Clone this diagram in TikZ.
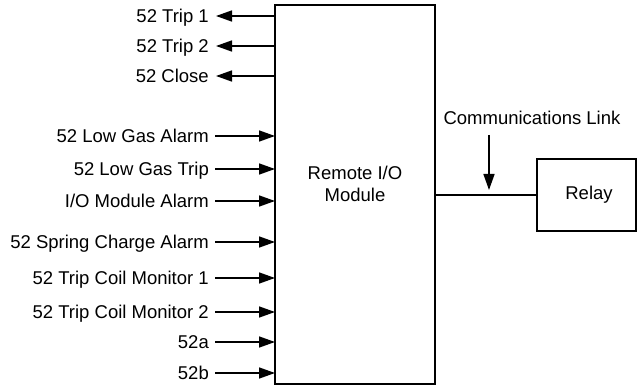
\documentclass[tikz,border=0pt]{standalone}
\usepackage{fontspec}
\setmainfont{Liberation Sans}
\usetikzlibrary{arrows.meta}
\begin{document}
\begin{tikzpicture}[x=1pt,y=-1pt,
  lbl/.style={font=\fontsize{18.5}{22}\selectfont,inner sep=0pt,anchor=base east},
  txt/.style={font=\fontsize{18.5}{22}\selectfont,inner sep=0pt,align=center},
  conn/.style={line width=1.5pt,-{Triangle[length=16pt,width=11pt]}},
  boxst/.style={draw,line width=1.5pt,inner sep=0pt}]
\useasboundingbox (0,0) rectangle (637,387);
\node[boxst,minimum width=160pt,minimum height=379pt] (rio) at (355,194.5) {};
\node[txt] (riot) at (355,184) {Remote I/O\\Module};
\node[boxst,minimum width=99pt,minimum height=72pt] (relay) at (586.5,195) {};
\node[txt] (relayt) at (589,195) {Relay};
\node[txt] (comm) at (532,118) {Communications Link};
\coordinate (ct) at (489,135);
\coordinate (cb) at (489,190);
\draw[conn] (ct) -- (cb);
\draw[line width=1.5pt] (rio.east |- relay.west) -- (relay.west);
% outputs
\foreach \n/\y/\t in {o1/16/{52 Trip 1},o2/46/{52 Trip 2},o3/76/{52 Close}}{
  \node[lbl] (\n) at (209,\y+6.6) {\t};
  \coordinate (\n b) at (275,\y);
  \coordinate (\n a) at (216,\y);
  \draw[conn] (\n b) -- (\n a);
}
% inputs
\foreach \n/\y/\t in {i1/136/{52 Low Gas Alarm},i2/169/{52 Low Gas Trip},i3/201/{I/O Module Alarm},i4/242/{52 Spring Charge Alarm},i5/278/{52 Trip Coil Monitor 1},i6/312/{52 Trip Coil Monitor 2},i7/342/{52a},i8/373/{52b}}{
  \node[lbl] (\n) at (209,\y+6.6) {\t};
  \coordinate (\n a) at (215,\y);
  \coordinate (\n b) at (275,\y);
  \draw[conn] (\n a) -- (\n b);
}
\end{tikzpicture}
\end{document}
